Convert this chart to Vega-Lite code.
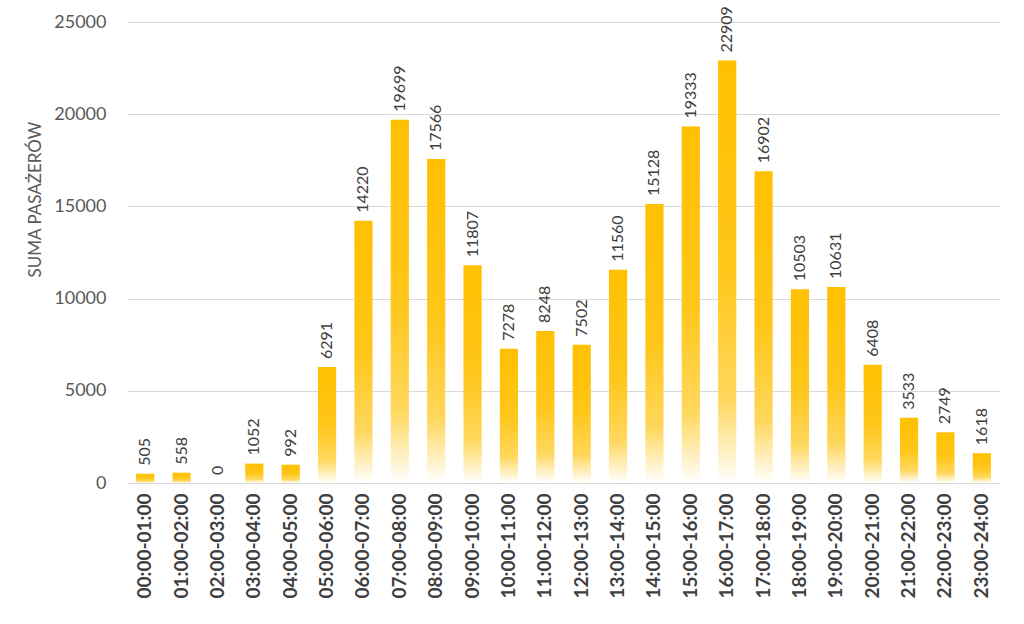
{
  "$schema": "https://vega.github.io/schema/vega-lite/v6.json",
  "width": 873,
  "height": 461,
  "autosize": "none",
  "padding": {"left": 127, "top": 22, "right": 24, "bottom": 141},
  "background": "white",
  "data": {"values": [
    {"godzina": "00:00-01:00", "suma": 505},
    {"godzina": "01:00-02:00", "suma": 558},
    {"godzina": "02:00-03:00", "suma": 0},
    {"godzina": "03:00-04:00", "suma": 1052},
    {"godzina": "04:00-05:00", "suma": 992},
    {"godzina": "05:00-06:00", "suma": 6291},
    {"godzina": "06:00-07:00", "suma": 14220},
    {"godzina": "07:00-08:00", "suma": 19699},
    {"godzina": "08:00-09:00", "suma": 17566},
    {"godzina": "09:00-10:00", "suma": 11807},
    {"godzina": "10:00-11:00", "suma": 7278},
    {"godzina": "11:00-12:00", "suma": 8248},
    {"godzina": "12:00-13:00", "suma": 7502},
    {"godzina": "13:00-14:00", "suma": 11560},
    {"godzina": "14:00-15:00", "suma": 15128},
    {"godzina": "15:00-16:00", "suma": 19333},
    {"godzina": "16:00-17:00", "suma": 22909},
    {"godzina": "17:00-18:00", "suma": 16902},
    {"godzina": "18:00-19:00", "suma": 10503},
    {"godzina": "19:00-20:00", "suma": 10631},
    {"godzina": "20:00-21:00", "suma": 6408},
    {"godzina": "21:00-22:00", "suma": 3533},
    {"godzina": "22:00-23:00", "suma": 2749},
    {"godzina": "23:00-24:00", "suma": 1618}
  ]},
  "encoding": {
    "x": {
      "field": "godzina", "type": "nominal", "sort": null,
      "scale": {"paddingInner": 0.5, "paddingOuter": 0.25},
      "axis": {
        "title": null, "labelAngle": -90, "labelFontSize": 19, "labelFontWeight": "bold",
        "labelColor": "#404040", "labelFont": "Lato", "ticks": false,
        "domainColor": "#d9d9d9", "labelPadding": 10
      }
    },
    "y": {
      "field": "suma", "type": "quantitative",
      "scale": {"domain": [0, 25000]},
      "axis": {
        "title": "SUMA PASAŻERÓW", "titleFontSize": 17, "titleFontWeight": "normal",
        "titleColor": "#595959", "titleFont": "Lato", "titlePadding": 9, "titleY": 177,
        "values": [0, 5000, 10000, 15000, 20000, 25000], "format": "d",
        "labelFontSize": 18, "labelColor": "#595959", "labelFont": "Lato",
        "domain": false, "ticks": false, "labelPadding": 21,
        "gridColor": "#d9d9d9", "gridWidth": 1
      }
    }
  },
  "layer": [
    {
      "mark": {
        "type": "bar",
        "color": {
          "gradient": "linear", "x1": 0, "y1": 0, "x2": 0, "y2": 1,
          "stops": [
            {"offset": 0, "color": "#FFC000"},
            {"offset": 0.5, "color": "#FFC61A"},
            {"offset": 0.8, "color": "#FFD75C"},
            {"offset": 1, "color": "#FFFFFF"}
          ]
        }
      }
    },
    {
      "mark": {
        "type": "text", "angle": -90, "align": "left", "baseline": "middle",
        "dx": 8, "fontSize": 16, "font": "Lato", "color": "#404040"
      },
      "encoding": {"text": {"field": "suma", "type": "quantitative"}}
    }
  ],
  "config": {"view": {"stroke": null}}
}
